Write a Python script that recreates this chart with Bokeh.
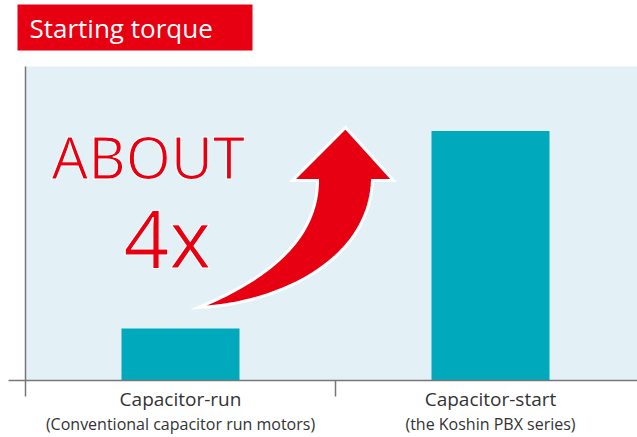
import numpy as np
from bokeh.plotting import figure
from bokeh.models import Range1d, FixedTicker, BoxAnnotation, Label, LinearAxis
from bokeh.embed import file_html
from bokeh.resources import INLINE

# ---- data ----
categories = ["Capacitor-run", "Capacitor-start"]
subtitles = ["(Conventional capacitor run motors)", "(the Koshin PBX series)"]
torque = [1.0, 4.8]
positions = [0.5, 1.5]
boundaries = [0, 1]
title_text = "Starting torque"
note_top = "ABOUT"
note_mult = "4x"

RED = "#E60012"
TEAL = "#00A9BC"
BG = "#E3F1F6"
GRAY = "#777777"
TXT = "#333333"
FONT = "Open Sans"

# pixel helpers for decorations (canvas px -> data units)
PX0, PY0 = 25.0, 380.0
UX, UY = 310.0, 52.0
def dx(px): return (px - PX0) / UX
def dy(py): return (PY0 - py) / UY

p = figure(frame_width=629, frame_height=380,
           x_range=Range1d(dx(8), dx(637)), y_range=Range1d(0, dy(0)),
           output_backend="svg", toolbar_location=None,
           min_border_left=8, min_border_right=0, min_border_top=0, min_border_bottom=57,
           y_axis_location=None)
p.xgrid.visible = False
p.ygrid.visible = False
p.outline_line_color = None
p.background_fill_color = "white"
p.border_fill_color = "white"

ticker = FixedTicker(ticks=positions, minor_ticks=boundaries)

ax = p.xaxis[0]
ax.ticker = ticker
ax.major_label_overrides = {positions[i]: categories[i] for i in range(2)}
ax.major_label_text_font = FONT
ax.major_label_text_font_size = "19px"
ax.major_label_text_color = TXT
ax.major_label_standoff = -11
ax.major_tick_line_color = None
ax.major_tick_out = 0
ax.major_tick_in = 0
ax.minor_tick_out = 16
ax.minor_tick_in = 0
ax.minor_tick_line_color = GRAY
ax.minor_tick_line_width = 1.5
ax.axis_line_color = GRAY
ax.axis_line_width = 1.5

ax2 = LinearAxis(ticker=ticker,
                 major_label_overrides={positions[i]: subtitles[i] for i in range(2)},
                 major_label_text_font=FONT, major_label_text_font_size="16px",
                 major_label_text_color=TXT, major_label_standoff=-2,
                 axis_line_color=None, major_tick_line_color=None, minor_tick_line_color=None,
                 major_tick_out=0, major_tick_in=0, minor_tick_out=0, minor_tick_in=0)
p.add_layout(ax2, "below")

# plot-area background
p.add_layout(BoxAnnotation(left=0, bottom=0, top=dy(66), fill_color=BG, fill_alpha=1,
                           line_color=None, level="underlay"))
# left vertical line
p.segment(x0=[0], y0=[0], x1=[0], y1=[dy(66)], line_color=GRAY, line_width=1.5)

# bars
p.vbar(x=positions, top=torque, bottom=0, width=118 / UX, fill_color=TEAL, line_color=None)

# title box
p.add_layout(BoxAnnotation(left=dx(17), right=dx(252), bottom=dy(50), top=dy(4),
                           fill_color=RED, fill_alpha=1, line_color=None))
p.add_layout(Label(x=dx(29), y=dy(27), text=title_text, text_color="white",
                   text_font=FONT, text_font_size="26px", text_baseline="alphabetic"))

# curved arrow (decoration)
def cubic(a, b, c, d, n=50):
    t = np.linspace(0, 1, n)[:, None]
    a, b, c, d = map(np.array, (a, b, c, d))
    return (1 - t) ** 3 * a + 3 * (1 - t) ** 2 * t * b + 3 * (1 - t) * t ** 2 * c + t ** 3 * d

def quad(a, b, c, n=50):
    t = np.linspace(0, 1, n)[:, None]
    a, b, c = map(np.array, (a, b, c))
    return (1 - t) ** 2 * a + 2 * (1 - t) * t * b + t ** 2 * c

outer = cubic((198, 307), (270, 304), (368, 265), (372, 180))
head = np.array([(393, 180), (345, 127), (292, 180), (317, 180)])
inner = quad((317, 180), (317, 258), (198, 307))
pts = np.vstack([outer, head, inner[1:]])
p.patch([dx(x) for x in pts[:, 0]], [dy(y) for y in pts[:, 1]],
        fill_color=RED, line_color="white", line_width=3, line_join="miter")

# ABOUT 4x
p.add_layout(Label(x=dx(51), y=dy(156), text=note_top, text_color=RED,
                   text_outline_color="white", text_font=FONT,
                   text_font_size="58px", text_baseline="alphabetic"))
p.add_layout(Label(x=dx(123), y=dy(236), text=note_mult, text_color=RED,
                   text_outline_color="white", text_font=FONT,
                   text_font_size="80px", text_baseline="alphabetic"))

open("out.html", "w").write(file_html(p, INLINE))
